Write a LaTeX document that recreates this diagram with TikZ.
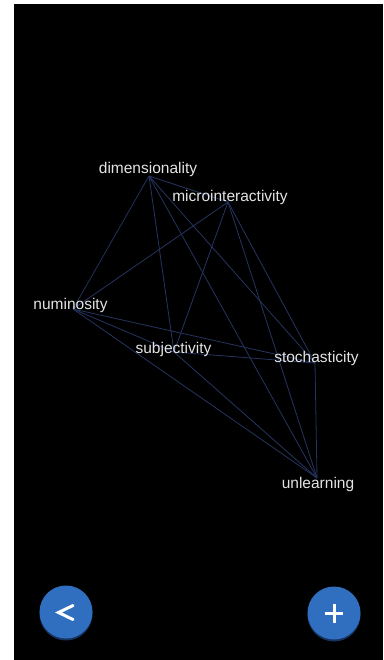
\documentclass[tikz,border=0pt]{standalone}
\usepackage{fontspec}
\setmainfont{Liberation Sans}
\begin{document}
\begin{tikzpicture}[x=1pt,y=-1pt,
  edge/.style={draw={rgb,255:red,38;green,52;blue,96},line width=0.8pt},
  lbl/.style={text={rgb,255:red,228;green,228;blue,228},anchor=base,inner sep=0pt,font=\fontsize{15.5}{18}\selectfont},
  fab/.style={circle,fill={rgb,255:red,48;green,110;blue,192},minimum size=53pt,inner sep=0pt},
  fabshadow/.style={circle,fill={rgb,255:red,22;green,50;blue,95},minimum size=53pt,inner sep=0pt},
  glyph/.style={draw=white,line width=3pt}]
\useasboundingbox (0,0) rectangle (383,660);
\fill[white] (0,0) rectangle (383,660);
\fill[black] (14,4) rectangle (383,660);
% anchor points
\coordinate (D) at (149,176);
\coordinate (M) at (228,202);
\coordinate (N) at (73,309);
\coordinate (S) at (174,352);
\coordinate (T) at (315,363);
\coordinate (U) at (317,478);
% edges (complete graph)
\foreach \a/\b in {D/M,D/N,D/S,D/T,D/U,M/N,M/S,M/T,M/U,N/S,N/T,N/U,S/T,S/U,T/U}
  \draw[edge] (\a) -- (\b);
% labels
\node[lbl] (dl) at (148,174) {dimensionality};
\node[lbl] (ml) at (230,201) {microinteractivity};
\node[lbl] (nl) at (70.5,309) {numinosity};
\node[lbl] (sl) at (173.5,353) {subjectivity};
\node[lbl] (tl) at (316.5,362) {stochasticity};
\node[lbl] (ul) at (318,488) {unlearning};
% buttons
\node[fabshadow] (bks) at (66,614) {};
\node[fab] (bk) at (66,612) {};
\draw[glyph,line cap=round,line join=miter] ([shift={(7,-6.5)}]bk.center) -- ([shift={(-7.5,0.5)}]bk.center) -- ([shift={(7,7.5)}]bk.center);
\node[fabshadow] (ads) at (334,615) {};
\node[fab] (ad) at (334,613) {};
\draw[glyph] ([shift={(-9,0)}]ad.center) -- ([shift={(9,0)}]ad.center);
\draw[glyph] ([shift={(0,-9.5)}]ad.center) -- ([shift={(0,9.5)}]ad.center);
\end{tikzpicture}
\end{document}
